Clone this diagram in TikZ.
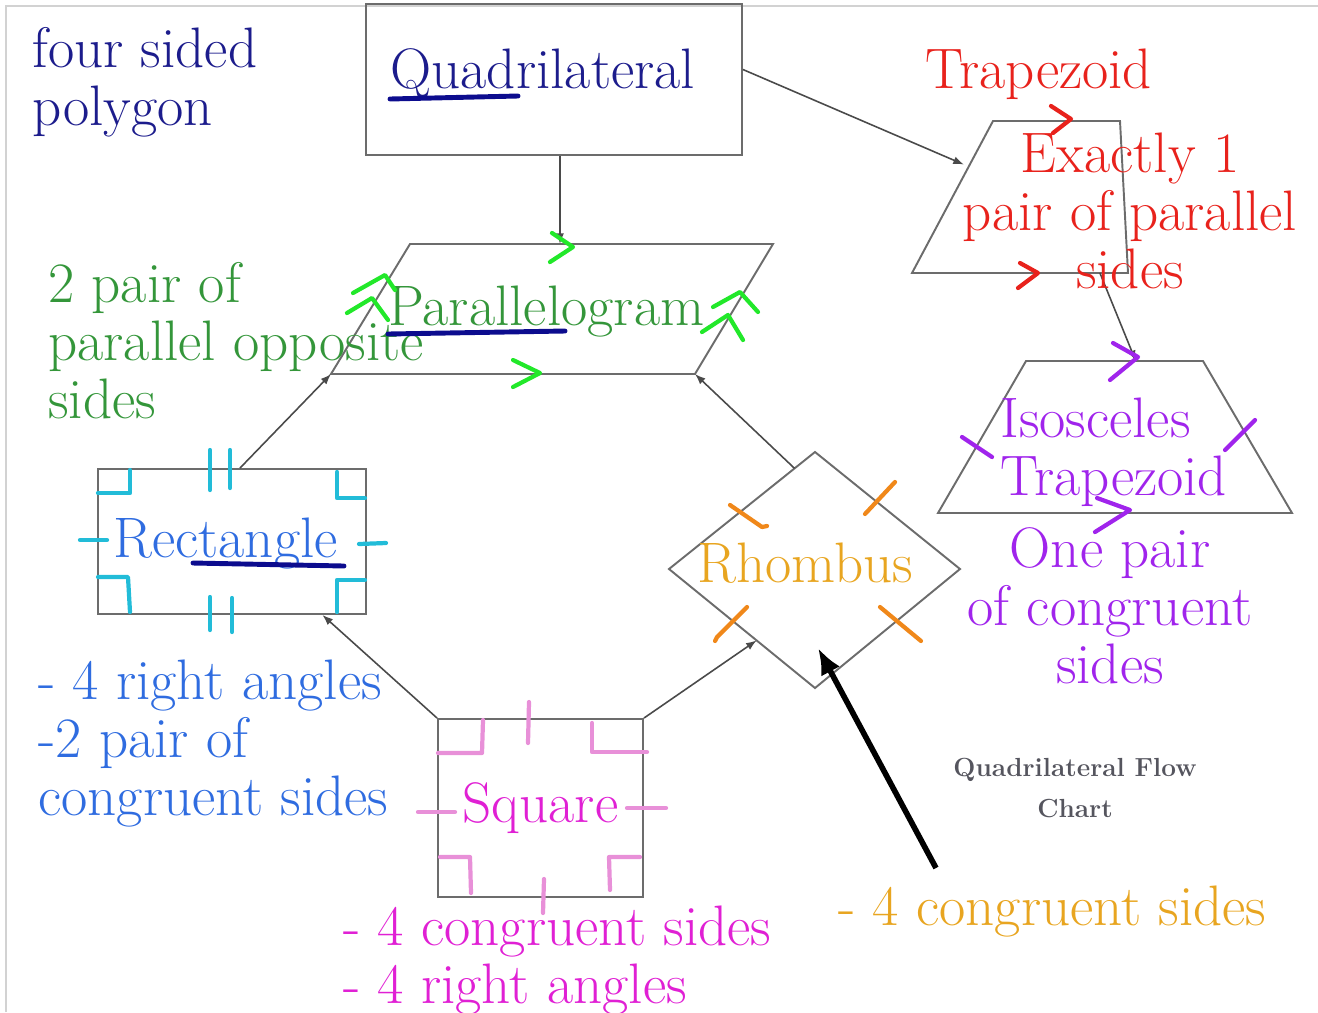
\documentclass[tikz,border=0pt]{standalone}
\usepackage{fontspec}
\usetikzlibrary{arrows.meta,calc}
\definecolor{navytxt}{HTML}{1C1C8C}
\definecolor{navyline}{HTML}{0C0C8E}
\definecolor{redtxt}{HTML}{E8221C}
\definecolor{greentxt}{HTML}{34963A}
\definecolor{limemark}{HTML}{22E82A}
\definecolor{bluetxt}{HTML}{2F6CE0}
\definecolor{cyanmark}{HTML}{22BCD8}
\definecolor{magtxt}{HTML}{E020D4}
\definecolor{pinkmark}{HTML}{E890D8}
\definecolor{orangetxt}{HTML}{E8A520}
\definecolor{orangemark}{HTML}{F0881A}
\definecolor{purpletxt}{HTML}{A024EC}
\definecolor{titlegray}{HTML}{55555E}
\definecolor{boxgray}{HTML}{6C6C6C}
\definecolor{linkgray}{HTML}{4A4A4A}
\tikzset{
 box/.style={draw=boxgray,line width=1.1pt},
 link/.style={draw=linkgray,line width=.9pt,-{Latex[length=6pt,width=4.5pt]}},
 lbl/.style={inner sep=0pt,font=\fontsize{32.5}{33}\selectfont},
 pen/.style={line width=2.4pt,line cap=round,line join=round},
}
\begin{document}
\begin{tikzpicture}[x=.02cm,y=-.02cm]
 \useasboundingbox (0,0) rectangle (1318,1012);
 \draw[gray!35,line width=.8pt] (6,1012)--(6,6)--(1318,6);
 % shapes
 \node (quad) [box,minimum width=7.52cm,minimum height=3.02cm] at (554,79.5) {};
 \coordinate (pg1) at (410,244); \coordinate (pg2) at (773,244);
 \coordinate (pg3) at (695,374); \coordinate (pg4) at (331,374);
 \coordinate (pgtop) at (560,244);
 \draw[box] (pg1)--(pg2)--(pg3)--(pg4)--cycle;
 \coordinate (tz1) at (993,121); \coordinate (tz2) at (1120,121);
 \coordinate (tz3) at (1128,273); \coordinate (tz4) at (912,273);
 \draw[box] (tz1)--(tz2)--(tz3)--(tz4)--cycle;
 \coordinate (it1) at (1026,361); \coordinate (it2) at (1203,361);
 \coordinate (it3) at (1292,513); \coordinate (it4) at (938,513);
 \draw[box] (it1)--(it2)--(it3)--(it4)--cycle;
 \node (rect) [box,minimum width=5.36cm,minimum height=2.9cm] at (232,541.5) {};
 \node (square) [box,minimum width=4.1cm,minimum height=3.56cm,lbl,text=magtxt] at (540.5,808) {Square};
 \coordinate (rh1) at (815,452); \coordinate (rh2) at (960,569);
 \coordinate (rh3) at (815,688); \coordinate (rh4) at (669,569);
 \draw[box] (rh1)--(rh2)--(rh3)--(rh4)--cycle;
 % connectors
 \draw[link] (quad.south -| pgtop) -- (pgtop);
 \draw[link,shorten >=3pt] ([yshift=.2cm]quad.east) -- ($(tz1)!.3!(tz4)$);
 \draw[link] ($(tz4)!.87!(tz3)$) -- ($(it1)!.62!(it2)$);
 \draw[link] ([xshift=.16cm]rect.north) -- (pg4);
 \draw[link] ($(rh1)!.14!(rh4)$) -- (pg3);
 \draw[link] (square.north west) -- ($(rect.south west)!.835!(rect.south east)$);
 \draw[link] (square.north east) -- ($(rh4)!.6!(rh3)$);
 \coordinate (bigtail) at (936,868); \coordinate (rhin) at (818,648);
 \draw[line width=3.2pt,-{Latex[length=15pt,width=12pt]}] (bigtail) -- (rhin);
 % labels
 \node (poly) [lbl,text=navytxt,anchor=base west,align=left] at (32,125) {four sided\\polygon};
 \node (quadtxt) [lbl,text=navytxt,anchor=base west] at (390,88) {Quadrilateral};
 \node (traptxt) [lbl,text=redtxt,anchor=base west] at (925,88) {Trapezoid};
 \node (trapdef) [lbl,text=redtxt,anchor=base,align=center] at (1130,288) {Exactly 1\\pair of parallel\\sides};
 \node (pgdef) [lbl,text=greentxt,anchor=base west,align=left] at (48,418) {2 pair of\\parallel opposite\\sides};
 \node (pgtxt) [lbl,text=greentxt,anchor=base west] at (388,325) {Parallelogram};
 \node (recttxt) [lbl,text=bluetxt,anchor=base west] at (113,557) {Rectangle};
 \node (isotxt) [lbl,text=purpletxt,anchor=base west,align=left] at (1000,495) {Isosceles\\Trapezoid};
 \node (isodef) [lbl,text=purpletxt,anchor=base,align=center] at (1110,683) {One pair\\of congruent\\sides};
 \node (rhtxt) [lbl,text=orangetxt,anchor=base west] at (697,582) {Rhombus};
 \node (rectdef) [lbl,text=bluetxt,anchor=base west,align=left] at (38,815) {- 4 right angles\\-2 pair of\\congruent sides};
 \node (sqdef) [lbl,text=magtxt,anchor=base west,align=left] at (343,1003) {- 4 congruent sides\\- 4 right angles};
 \node (rhdef) [lbl,text=orangetxt,anchor=base west] at (838,925) {- 4 congruent sides};
 \node (title) [inner sep=0pt,text=titlegray,font=\fontsize{14.9}{22.8}\selectfont\bfseries,anchor=base,align=center] at (1075,817) {Quadrilateral Flow\\Chart};
 % underlines
 \draw[navyline,line width=2.8pt,line cap=round] (390,99)--(518,96);
 \draw[navyline,line width=2.8pt,line cap=round] (388,334)--(565,331);
 \draw[navyline,line width=2.8pt,line cap=round] (193,563)--(344,566);
 % parallel marks
 \draw[pen,limemark] (552,233)--(573,247)--(550,262);
 \draw[pen,limemark] (513,360)--(540,373)--(513,387);
 \draw[pen,limemark] (353,293)--(385,275)--(395,290);
 \draw[pen,limemark] (347,313)--(372,298)--(388,320);
 \draw[pen,limemark] (713,307)--(740,292)--(758,312);
 \draw[pen,limemark] (702,332)--(728,315)--(743,340);
 \draw[pen,redtxt] (1051,106)--(1071,119)--(1053,133);
 \draw[pen,redtxt] (1020,263)--(1038,273)--(1018,288);
 \draw[pen,purpletxt] (1113,343)--(1138,357)--(1110,380);
 \draw[pen,purpletxt] (1097,498)--(1130,510)--(1095,532);
 \draw[pen,purpletxt] (962,437)--(992,457);
 \draw[pen,purpletxt] (1225,450)--(1255,420);
 % congruence and right angle marks
 \draw[pen,orangemark] (730,505)--(762,527)--(767,526);
 \draw[pen,orangemark] (865,514)--(895,482);
 \draw[pen,orangemark] (715,641)--(717,637)--(747,607);
 \draw[pen,orangemark] (880,607)--(921,641);
 \draw[pen,cyanmark] (98,493)--(130,493)--(130,470);
 \draw[pen,cyanmark] (337,472)--(337,498)--(365,498);
 \draw[pen,cyanmark] (98,577)--(128,577)--(130,612);
 \draw[pen,cyanmark] (365,580)--(337,580)--(337,612);
 \draw[pen,cyanmark] (210,450)--(210,490); \draw[pen,cyanmark] (230,450)--(230,488);
 \draw[pen,cyanmark] (210,597)--(210,630); \draw[pen,cyanmark] (232,598)--(232,632);
 \draw[pen,cyanmark] (80,540)--(107,540); \draw[pen,cyanmark] (359,544)--(386,543);
 \draw[pen,pinkmark] (438,753)--(482,753)--(483,720);
 \draw[pen,pinkmark] (592,723)--(592,752)--(647,752);
 \draw[pen,pinkmark] (440,857)--(470,857)--(471,893);
 \draw[pen,pinkmark] (640,857)--(609,857)--(610,890);
 \draw[pen,pinkmark] (529,702)--(528,743); \draw[pen,pinkmark] (544,879)--(543,913);
 \draw[pen,pinkmark] (418,812)--(455,812); \draw[pen,pinkmark] (627,808)--(666,808);
\end{tikzpicture}
\end{document}
